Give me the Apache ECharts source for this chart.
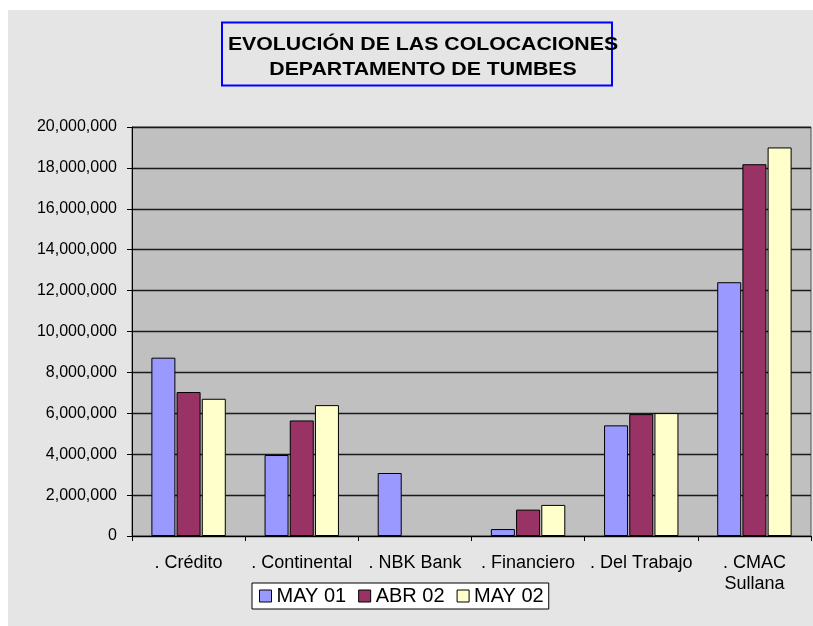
<!DOCTYPE html>
<html>
<head>
<meta charset="utf-8">
<script src="https://cdn.jsdelivr.net/npm/echarts@6/dist/echarts.min.js"></script>
<style>
  html, body { margin: 0; padding: 0; background: #ffffff; }
  #main { width: 813px; height: 626px; }
</style>
</head>
<body>
<div id="main"></div>
<script>
// datos del grafico
var categorias = ['. Crédito', '. Continental', '. NBK Bank', '. Financiero', '. Del Trabajo', '. CMAC\nSullana'];
var may01 = [8720000, 3960000, 3080000, 340000, 5410000, 12410000];
var abr02 = [7040000, 5650000, null, 1290000, 5960000, 18180000];
var may02 = [6710000, 6400000, null, 1520000, 6010000, 19000000];
var ejeY = { min: 0, max: 20000000, interval: 2000000 };

var fuente = '"Liberation Sans", Arial, sans-serif';

var myChart = echarts.init(document.getElementById('main'));

function serie(nombre, datos, color) {
    return {
        name: nombre,
        type: 'bar',
        barWidth: 24,
        barGap: '5%',
        itemStyle: {
            color: color,
            borderColor: '#000',
            borderWidth: 1
        },
        emphasis: { disabled: true },
        data: datos
    };
}

var option = {
    animation: false,
    graphic: [
        {
            // fondo gris
            type: 'rect',
            silent: true,
            z: -10,
            shape: { x: 8, y: 10, width: 805, height: 616 },
            style: { fill: '#e5e5e5' }
        },
        {
            // recuadro del titulo
            type: 'rect',
            silent: true,
            shape: { x: 222, y: 22.5, width: 390, height: 63 },
            style: { fill: 'none', stroke: '#0000ff', lineWidth: 2 }
        },
        {
            type: 'text',
            silent: true,
            x: 423,
            y: 57.5,
            scaleX: 1.12,
            style: {
                text: 'EVOLUCIÓN DE LAS COLOCACIONES\nDEPARTAMENTO DE TUMBES',
                font: 'bold 19px ' + fuente,
                fill: '#000',
                align: 'center',
                verticalAlign: 'middle',
                lineHeight: 25.5
            }
        }
    ],
    legend: {
        left: 252,
        top: 583,
        orient: 'horizontal',
        backgroundColor: '#ffffff',
        borderColor: '#000',
        borderWidth: 1,
        borderRadius: 0,
        padding: [3, 5, 3, 7],
        itemWidth: 12,
        itemHeight: 12,
        itemGap: 12,
        icon: 'rect',
        selectedMode: false,
        itemStyle: { borderColor: '#000', borderWidth: 1 },
        textStyle: { fontFamily: fuente, fontSize: 20, color: '#000' },
        data: ['MAY 01', 'ABR 02', 'MAY 02']
    },
    grid: {
        show: true,
        left: 132,
        right: 2,
        top: 127,
        bottom: 90,
        containLabel: false,
        backgroundColor: '#c0c0c0',
        borderColor: '#555',
        borderWidth: 1
    },
    xAxis: {
        type: 'category',
        data: categorias,
        axisLine: { show: true, lineStyle: { color: '#000', width: 1 } },
        axisTick: { show: true, inside: false, length: 5, alignWithLabel: false, lineStyle: { color: '#000' } },
        axisLabel: {
            show: true,
            margin: 17,
            interval: 0,
            color: '#000',
            fontFamily: fuente,
            fontSize: 18,
            lineHeight: 21
        },
        splitLine: { show: false }
    },
    yAxis: {
        type: 'value',
        min: ejeY.min,
        max: ejeY.max,
        interval: ejeY.interval,
        axisLine: { show: true, lineStyle: { color: '#000', width: 1 } },
        axisTick: { show: true, inside: false, length: 5, lineStyle: { color: '#000' } },
        axisLabel: {
            show: true,
            margin: 15,
            color: '#000',
            fontFamily: fuente,
            fontSize: 16,
            formatter: function (v) { return v.toLocaleString('en-US'); }
        },
        splitLine: { show: true, lineStyle: { color: '#1a1a1a', width: 1.3, type: 'solid' } }
    },
    series: [
        serie('MAY 01', may01, '#9999ff'),
        serie('ABR 02', abr02, '#993366'),
        serie('MAY 02', may02, '#ffffcc')
    ]
};

myChart.setOption(option);
</script>
</body>
</html>
